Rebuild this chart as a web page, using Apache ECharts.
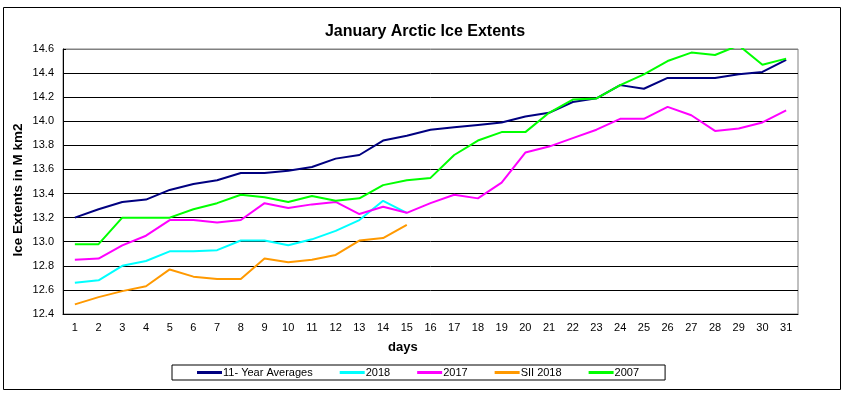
<!DOCTYPE html>
<html>
<head>
<meta charset="utf-8">
<script src="https://cdn.jsdelivr.net/npm/echarts@6/dist/echarts.min.js"></script>
<style>
  html, body { margin: 0; padding: 0; background: #fff; }
  #chart { width: 850px; height: 399px; }
</style>
</head>
<body>
<div id="chart"></div>
<script>
var days = ['1','2','3','4','5','6','7','8','9','10','11','12','13','14','15','16','17','18','19','20','21','22','23','24','25','26','27','28','29','30','31'];

var avg11 = [13.20,13.27,13.33,13.35,13.43,13.48,13.51,13.57,13.57,13.59,13.62,13.69,13.72,13.84,13.88,13.93,13.95,13.97,13.99,14.04,14.07,14.16,14.19,14.30,14.27,14.36,14.36,14.36,14.39,14.41,14.51];
var y2018 = [12.66,12.68,12.80,12.84,12.92,12.92,12.93,13.01,13.01,12.97,13.02,13.09,13.18,13.34,13.24];
var y2017 = [12.85,12.86,12.97,13.05,13.18,13.18,13.16,13.18,13.32,13.28,13.31,13.33,13.23,13.29,13.24,13.32,13.39,13.36,13.49,13.74,13.79,13.86,13.93,14.02,14.02,14.12,14.05,13.92,13.94,13.99,14.09];
var sii2018 = [12.48,12.54,12.59,12.63,12.77,12.71,12.69,12.69,12.86,12.83,12.85,12.89,13.01,13.03,13.14];
var y2007 = [12.98,12.98,13.20,13.20,13.20,13.27,13.32,13.39,13.37,13.33,13.38,13.34,13.36,13.47,13.51,13.53,13.72,13.84,13.91,13.91,14.07,14.18,14.19,14.30,14.39,14.50,14.57,14.55,14.63,14.47,14.52];

var names = ['11- Year Averages', '2018', '2017', 'SII 2018', '2007'];
var colors = ['#000080', '#00ffff', '#ff00ff', '#ff9900', '#00ff00'];
var seriesData = [avg11, y2018, y2017, sii2018, y2007];

var font = 'Liberation Sans, Arial, sans-serif';

// last split line (14.6) is the grey plot border
var gridColors = [];
for (var i = 0; i < 11; i++) gridColors.push('#000');
gridColors.push('#808080');

var chart = echarts.init(document.getElementById('chart'));

var series = names.map(function(n, i) {
	return {
		name: n,
		type: 'line',
		data: seriesData[i],
		symbol: 'none',
		clip: true,
		lineStyle: { color: colors[i], width: 2 },
		itemStyle: { color: colors[i] }
	};
});

chart.setOption({
	animation: false,
	backgroundColor: '#fff',
	title: {
		text: 'January Arctic Ice Extents',
		left: 'center',
		top: 19,
		textStyle: { fontFamily: font, fontSize: 16, fontWeight: 'bold', color: '#000' }
	},
	grid: {
		left: 63, right: 52, top: 49, bottom: 85,
		show: true,
		borderColor: '#808080',
		borderWidth: 1,
		backgroundColor: '#fff'
	},
	legend: {
		data: names,
		left: 172,
		top: 365,
		padding: [2, 26, 2, 25],
		itemGap: 27,
		itemWidth: 25,
		itemHeight: 3,
		icon: 'rect',
		borderColor: '#000',
		borderWidth: 1,
		textStyle: { fontFamily: font, fontSize: 11, color: '#000', padding: [0, 0, 0, -4] }
	},
	xAxis: {
		type: 'category',
		data: days,
		boundaryGap: true,
		axisLine: { lineStyle: { color: '#000', width: 1 } },
		axisTick: { inside: true, length: 3, lineStyle: { color: '#000' } },
		axisLabel: { fontFamily: font, fontSize: 11, color: '#000', margin: 8, interval: 0 },
		splitLine: { show: false }
	},
	yAxis: {
		type: 'value',
		min: 12.4,
		max: 14.6,
		interval: 0.2,
		name: 'Ice Extents in M km2',
		nameLocation: 'middle',
		nameGap: 38,
		nameMoveOverlap: false,
		nameTextStyle: {
			fontFamily: font, fontSize: 13.5, fontWeight: 'bold', color: '#000',
			padding: [0, 17, 0, 0]
		},
		axisLine: { show: true, lineStyle: { color: '#000', width: 1 } },
		axisTick: { show: true, inside: true, length: 3, lineStyle: { color: '#000' } },
		axisLabel: {
			fontFamily: font, fontSize: 11, color: '#000', margin: 9,
			formatter: function(v) { return v.toFixed(1); }
		},
		splitLine: { show: true, lineStyle: { color: gridColors, width: 1 } }
	},
	graphic: [
		{
			type: 'rect',
			shape: { x: 3.5, y: 7.5, width: 837, height: 382 },
			style: { fill: 'none', stroke: '#000', lineWidth: 1 },
			z: -10
		},
		{
			type: 'text',
			left: 388,
			top: 341,
			style: { text: 'days', font: 'bold 13px ' + font, fill: '#000' }
		}
	],
	series: series
});
</script>
</body>
</html>
